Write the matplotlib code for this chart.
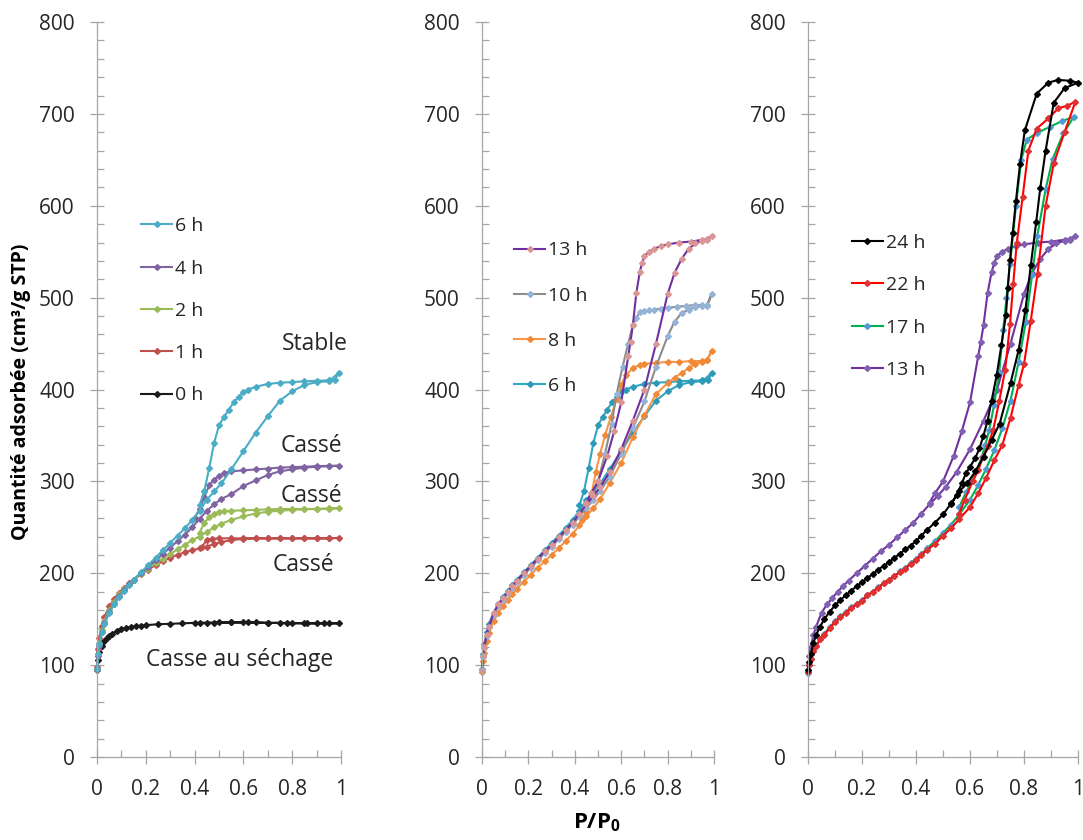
import matplotlib
matplotlib.use("Agg")
import matplotlib.pyplot as plt
from matplotlib.ticker import MultipleLocator

plt.rcParams['font.family'] = ['Open Sans', 'DejaVu Sans']
plt.rcParams['mathtext.fontset'] = 'custom'
plt.rcParams['mathtext.rm'] = 'Open Sans'
plt.rcParams['mathtext.bf'] = 'Open Sans:bold'

# ---- data: P/P0 and adsorbed volume, adsorption branch then desorption branch ----
p_0h = [0.0, 0.005, 0.01, 0.02, 0.03, 0.04, 0.05, 0.06, 0.08, 0.1, 0.12, 0.14, 0.16, 0.18, 0.2,
        0.25, 0.3, 0.35, 0.4, 0.45, 0.5, 0.55, 0.6, 0.65, 0.7, 0.75, 0.8, 0.85, 0.9, 0.95, 0.99,
        0.93, 0.86, 0.78, 0.7, 0.62, 0.55, 0.48, 0.42]
v_0h = [95, 106, 114, 121, 126, 129, 132, 134, 137, 139, 140.5, 141.5, 142.5, 143, 143.5,
        144.5, 145, 145.5, 146, 146, 146.5, 146.5, 146.5, 146.5, 146, 146, 145.5, 145.5, 145.5, 145.5, 145.5,
        145.5, 145.5, 146, 146, 146.5, 146.5, 146, 146]

p_1h = [0.0, 0.005, 0.01, 0.02, 0.03, 0.05, 0.07, 0.09, 0.11, 0.13, 0.15, 0.18, 0.21, 0.24, 0.27, 0.3,
        0.33, 0.36, 0.39, 0.42, 0.45, 0.48, 0.51, 0.55, 0.6, 0.65, 0.7, 0.75, 0.8, 0.85, 0.9, 0.95, 0.99,
        0.95, 0.9, 0.85, 0.8, 0.75, 0.7, 0.65, 0.6, 0.55, 0.5, 0.47, 0.45, 0.43]
v_1h = [98, 118, 130, 143, 152, 164, 172, 179, 184, 189, 193, 199, 204, 209, 213, 217,
        220, 223, 225, 227, 229, 232, 234, 236, 237.5, 238, 238, 238, 238, 238, 238, 238, 238.5,
        238, 238, 238, 238, 238, 238, 238, 238, 238, 238, 237.5, 236, 229]

p_2h = [0.0, 0.005, 0.01, 0.02, 0.03, 0.05, 0.07, 0.09, 0.11, 0.13, 0.15, 0.18, 0.21, 0.24, 0.27, 0.3,
        0.33, 0.36, 0.39, 0.42, 0.45, 0.48, 0.51, 0.55, 0.6, 0.65, 0.7, 0.75, 0.8, 0.85, 0.9, 0.95, 0.99,
        0.95, 0.9, 0.85, 0.8, 0.75, 0.7, 0.65, 0.6, 0.55, 0.52, 0.5, 0.48, 0.46, 0.44, 0.42]
v_2h = [96, 112, 124, 138, 148, 160, 169, 177, 183, 188, 193, 199, 205, 211, 216, 221,
        226, 231, 236, 240, 245, 250, 254, 258, 262, 265, 267, 268, 269, 269.5, 270, 270, 271,
        270.5, 270, 270, 270, 270, 269.5, 269, 268.5, 268, 267.5, 267, 265, 261, 255, 244]

p_4h = [0.0, 0.005, 0.01, 0.02, 0.03, 0.05, 0.07, 0.09, 0.11, 0.13, 0.15, 0.18, 0.21, 0.24, 0.27, 0.3,
        0.33, 0.36, 0.39, 0.42, 0.45, 0.48, 0.51, 0.55, 0.6, 0.65, 0.7, 0.75, 0.8, 0.85, 0.9, 0.95, 0.99,
        0.95, 0.9, 0.85, 0.8, 0.75, 0.7, 0.65, 0.6, 0.55, 0.52, 0.5, 0.48, 0.46, 0.44, 0.42, 0.4]
v_4h = [96, 110, 121, 136, 146, 158, 167, 175, 182, 188, 193, 200, 207, 214, 221, 228,
        235, 242, 250, 259, 268, 275, 281, 286, 295, 301, 307, 311, 313, 315, 316, 316.5, 317,
        317, 316.5, 316, 315.5, 315, 314, 313, 312, 311, 309, 306, 302, 296, 283, 270, 260]

p_6h = [0.0, 0.005, 0.01, 0.02, 0.03, 0.05, 0.07, 0.09, 0.11, 0.13, 0.15, 0.18, 0.21, 0.24, 0.27, 0.3,
        0.33, 0.36, 0.39, 0.42, 0.45, 0.48, 0.51, 0.55, 0.6, 0.65, 0.7, 0.75, 0.8, 0.85, 0.9, 0.95, 0.99,
        0.975, 0.95, 0.9, 0.85, 0.8, 0.75, 0.7, 0.65, 0.62, 0.6, 0.58, 0.56, 0.54, 0.52, 0.5, 0.48,
        0.46, 0.44, 0.42]
v_6h = [96, 112, 123, 136, 145, 157, 166, 174, 181, 187, 193, 201, 209, 217, 225, 233,
        241, 249, 258, 268, 280, 289, 298, 313, 333, 353, 371, 388, 398, 405, 408, 409, 418,
        410, 410, 409.5, 409, 408, 407.5, 406, 403, 400, 397, 392, 386, 378, 370, 361, 342,
        315, 290, 274]

p_8h = [0.0, 0.005, 0.01, 0.02, 0.03, 0.05, 0.07, 0.09, 0.11, 0.13, 0.15, 0.18, 0.21, 0.24, 0.27, 0.3,
        0.33, 0.36, 0.39, 0.42, 0.45, 0.48, 0.51, 0.55, 0.6, 0.65, 0.7, 0.75, 0.8, 0.83, 0.86, 0.89,
        0.92, 0.95, 0.97, 0.99,
        0.97, 0.95, 0.9, 0.85, 0.8, 0.75, 0.7, 0.68, 0.65, 0.62, 0.6, 0.58, 0.555, 0.53, 0.509,
        0.49, 0.473, 0.45, 0.43]
v_8h = [93, 104, 113, 126, 135, 148, 157, 164, 171, 177, 183, 191, 198, 206, 213, 220,
        227, 235, 243, 252, 262, 271, 281, 298, 320, 348, 372, 395, 407, 413, 418, 423,
        428, 430, 432, 442,
        432, 431, 431, 430, 430, 429, 428, 427, 423, 416, 405, 390, 370, 350, 330,
        310, 287, 268, 258]

p_10h = [0.0, 0.005, 0.01, 0.02, 0.03, 0.05, 0.07, 0.09, 0.11, 0.13, 0.15, 0.18, 0.21, 0.24, 0.27, 0.3,
         0.33, 0.36, 0.39, 0.42, 0.45, 0.48, 0.51, 0.55, 0.6, 0.65, 0.7, 0.75, 0.8, 0.83, 0.86, 0.89,
         0.92, 0.95, 0.97, 0.99,
         0.97, 0.95, 0.92, 0.88, 0.84, 0.8, 0.77, 0.74, 0.72, 0.7, 0.68, 0.665, 0.65, 0.63, 0.606,
         0.58, 0.559, 0.53, 0.5, 0.47]
v_10h = [95, 109, 119, 132, 141, 155, 164, 171, 178, 184, 190, 198, 206, 214, 222, 229,
         237, 245, 253, 262, 271, 280, 290, 305, 330, 358, 387, 425, 458, 474, 483, 487,
         490, 491, 492, 504,
         491, 492, 492, 491, 490, 489, 488, 487, 486, 485, 484, 478, 470, 450, 425,
         395, 363, 330, 300, 281]

p_13h = [0.0, 0.005, 0.01, 0.02, 0.03, 0.05, 0.07, 0.09, 0.11, 0.13, 0.15, 0.18, 0.21, 0.24, 0.27, 0.3,
         0.33, 0.36, 0.39, 0.42, 0.45, 0.48, 0.51, 0.55, 0.6, 0.65, 0.7, 0.75, 0.8, 0.83, 0.86, 0.89,
         0.92, 0.95, 0.97, 0.99,
         0.97, 0.95, 0.9, 0.85, 0.8, 0.77, 0.74, 0.72, 0.7, 0.69, 0.68, 0.665, 0.65, 0.64, 0.63,
         0.6, 0.57, 0.54, 0.5, 0.47, 0.45]
v_13h = [95, 110, 120, 133, 142, 157, 166, 173, 180, 186, 192, 200, 208, 216, 224, 231,
         239, 247, 255, 265, 275, 284, 294, 310, 335, 366, 400, 450, 504, 527, 542, 553,
         559, 562, 563, 567,
         564, 563, 561, 560, 558, 556, 553, 550, 545, 538, 528, 505, 470, 452, 436,
         386, 355, 328, 300, 287, 277]

p_17h = [0.0, 0.005, 0.01, 0.02, 0.03, 0.045, 0.06, 0.08, 0.1, 0.12, 0.14, 0.16, 0.18, 0.2, 0.22, 0.24,
         0.26, 0.28, 0.3, 0.32, 0.34, 0.36, 0.38, 0.4, 0.42, 0.44, 0.47, 0.5, 0.53, 0.56, 0.6, 0.63,
         0.66, 0.69, 0.72, 0.75, 0.78, 0.807, 0.83, 0.849, 0.88, 0.906, 0.946, 0.985,
         0.94, 0.896, 0.847, 0.81, 0.79, 0.77, 0.76, 0.748, 0.735, 0.723, 0.708, 0.689, 0.671,
         0.657, 0.643, 0.625, 0.606, 0.585, 0.56]
v_17h = [91, 100, 107, 115, 121, 128, 134, 141, 148, 153, 158, 163, 167, 171, 176, 180,
         185, 189, 193, 197, 202, 206, 211, 216, 221, 227, 235, 244, 253, 264, 280, 296,
         314, 334, 358, 388, 430, 474, 525, 567, 618, 651, 679, 697,
         692, 686, 679, 672, 650, 600, 570, 537, 500, 465, 419, 383, 356,
         340, 326, 312, 300, 288, 272]

p_22h = [0.0, 0.005, 0.01, 0.02, 0.03, 0.045, 0.06, 0.08, 0.1, 0.12, 0.14, 0.16, 0.18, 0.2, 0.22, 0.24,
         0.26, 0.28, 0.3, 0.32, 0.34, 0.36, 0.38, 0.4, 0.42, 0.44, 0.47, 0.5, 0.53, 0.56, 0.6, 0.63,
         0.66, 0.69, 0.72, 0.75, 0.78, 0.8, 0.825, 0.85, 0.88, 0.91, 0.95, 0.99,
         0.96, 0.927, 0.89, 0.847, 0.816, 0.795, 0.773, 0.76, 0.748, 0.73, 0.708, 0.686, 0.665,
         0.649, 0.63, 0.61, 0.58, 0.56]
v_22h = [92, 100, 107, 115, 121, 128, 133, 140, 147, 152, 157, 162, 166, 170, 176, 180,
         184, 189, 193, 197, 201, 205, 210, 214, 220, 225, 232, 241, 249, 259, 272, 287,
         304, 323, 340, 369, 405, 428, 475, 526, 600, 646, 680, 713,
         709, 706, 695, 684, 660, 610, 559, 515, 471, 421, 387, 356, 338,
         327, 312, 300, 280, 265]

p_24h = [0.0, 0.005, 0.01, 0.02, 0.03, 0.045, 0.06, 0.08, 0.1, 0.12, 0.14, 0.16, 0.18, 0.2, 0.22, 0.24,
         0.26, 0.28, 0.3, 0.32, 0.34, 0.36, 0.38, 0.4, 0.42, 0.44, 0.47, 0.5, 0.53, 0.56, 0.59, 0.62,
         0.65, 0.68, 0.71, 0.75, 0.78, 0.805, 0.825, 0.845, 0.86, 0.88, 0.91, 0.95, 1.0,
         0.97, 0.927, 0.89, 0.847, 0.803, 0.785, 0.77, 0.758, 0.748, 0.74, 0.733, 0.716, 0.699,
         0.68, 0.665, 0.649, 0.635, 0.619, 0.6, 0.585, 0.57, 0.55, 0.53]
v_24h = [95, 103, 112, 124, 133, 142, 150, 158, 165, 171, 176, 181, 186, 190, 195, 199,
         204, 208, 212, 217, 221, 226, 230, 235, 241, 247, 255, 264, 276, 289, 298, 311,
         327, 345, 363, 407, 443, 486, 535, 582, 619, 660, 712, 728, 734,
         736, 737, 734, 722, 682, 645, 605, 570, 541, 510, 481, 448, 416,
         388, 366, 349, 336, 325, 316, 309, 298, 285, 275]

x_ticks = [0, 0.2, 0.4, 0.6, 0.8, 1.0]
x_tick_labels = ["0", "0.2", "0.4", "0.6", "0.8", "1"]
y_ticks = [0, 100, 200, 300, 400, 500, 600, 700, 800]

GRAY = '#A6A6A6'
TXT = '#262626'


def style_axis(ax):
    ax.set_xlim(0, 1)
    ax.set_ylim(0, 800)
    for s in ('top', 'right'):
        ax.spines[s].set_visible(False)
    for s in ('left', 'bottom'):
        ax.spines[s].set_color(GRAY)
        ax.spines[s].set_linewidth(0.9)
    ax.set_xticks(x_ticks, x_tick_labels)
    ax.set_yticks(y_ticks)
    ax.xaxis.set_minor_locator(MultipleLocator(0.1))
    ax.yaxis.set_minor_locator(MultipleLocator(20))
    ax.tick_params(which='major', direction='inout', length=10, width=0.9, color=GRAY,
                   labelsize=15, labelcolor=TXT, pad=11)
    ax.tick_params(which='minor', direction='in', length=5, width=0.9, color=GRAY)


def curve(ax, p, v, color, mcolor, label):
    line, = ax.plot(p, v, color=color, lw=1.5, marker='D', ms=3, mfc=mcolor, mec=mcolor,
                    label=label, clip_on=False)
    return line


def add_legend(ax, handles, x, y, spacing):
    leg = ax.legend(handles=handles, loc='center left', bbox_to_anchor=(x, y), frameon=False,
                    fontsize=14, handlelength=1.6, handletextpad=0.15, labelspacing=spacing,
                    borderpad=0, borderaxespad=0, numpoints=1)
    for t in leg.get_texts():
        t.set_color(TXT)


fig = plt.figure(figsize=(10.83, 8.4), dpi=100)
ax1 = fig.add_axes([0.0896, 0.0988, 0.2253, 0.875])
ax2 = fig.add_axes([0.4451, 0.0988, 0.2142, 0.875])
ax3 = fig.add_axes([0.7461, 0.0988, 0.2493, 0.875])
for ax in (ax1, ax2, ax3):
    style_axis(ax)

# panel 1
h0 = curve(ax1, p_0h, v_0h, '#1a1a1a', '#1a1a1a', '0 h')
h1 = curve(ax1, p_1h, v_1h, '#C0504D', '#C0504D', '1 h')
h2 = curve(ax1, p_2h, v_2h, '#9BBB59', '#9BBB59', '2 h')
h4 = curve(ax1, p_4h, v_4h, '#8064A2', '#8064A2', '4 h')
h6 = curve(ax1, p_6h, v_6h, '#4BACC6', '#4BACC6', '6 h')
add_legend(ax1, [h6, h4, h2, h1, h0], 0.18, 0.607, 1.25)

ax1.text(0.893, 450, 'Stable', ha='center', va='center', fontsize=16.5, color=TXT)
ax1.text(0.88, 339, 'Cassé', ha='center', va='center', fontsize=16.5, color=TXT)
ax1.text(0.88, 284, 'Cassé', ha='center', va='center', fontsize=16.5, color=TXT)
ax1.text(0.845, 209, 'Cassé', ha='center', va='center', fontsize=16.5, color=TXT)
ax1.text(0.584, 106, 'Casse au séchage', ha='center', va='center', fontsize=16.5, color=TXT)

# panel 2
g6 = curve(ax2, p_6h, v_6h, '#31A5C4', '#2E9AB8', '6 h')
g8 = curve(ax2, p_8h, v_8h, '#F79646', '#F08A38', '8 h')
g10 = curve(ax2, p_10h, v_10h, '#8C8C8C', '#95B3D7', '10 h')
g13 = curve(ax2, p_13h, v_13h, '#7030A0', '#D99694', '13 h')
add_legend(ax2, [g13, g10, g8, g6], 0.138, 0.597, 1.4)

# panel 3
k13 = curve(ax3, p_13h, v_13h, '#7030A0', '#8060B0', '13 h')
k17 = curve(ax3, p_17h, v_17h, '#00B050', '#4F9BD5', '17 h')
k22 = curve(ax3, p_22h, v_22h, '#FF0000', '#E03030', '22 h')
k24 = curve(ax3, p_24h, v_24h, '#000000', '#000000', '24 h')
add_legend(ax3, [k24, k22, k17, k13], 0.162, 0.613, 1.25)

fig.text(0.0195, 0.533, 'Quantité adsorbée (cm³/g STP)', rotation=90, ha='center', va='center',
         fontsize=14, fontweight='bold', color='#000000')
fig.text(0.551, 0.021, r'$\mathbf{P/P_0}$', ha='center', va='center', fontsize=16, color='#000000')

fig.savefig('out.png', dpi=100)
